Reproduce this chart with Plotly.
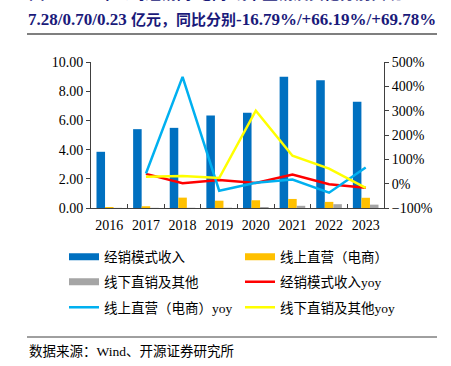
import plotly.graph_objects as go

years = ["2016", "2017", "2018", "2019", "2020", "2021", "2022", "2023"]
dist_rev = [3.85, 5.40, 5.49, 6.34, 6.52, 8.99, 8.75, 7.28]
online_rev = [0.07, 0.12, 0.71, 0.50, 0.53, 0.62, 0.42, 0.70]
offline_rev = [0.01, 0.012, 0.015, 0.018, 0.07, 0.15, 0.26, 0.23]
dist_yoy = [None, 40.3, 1.7, 15.5, 2.8, 37.9, -2.7, -16.79]
online_yoy = [None, 42, 439, -29, 4, 17, -37, 66.19]
offline_yoy = [None, 28, 31, 23, 300, 115, 62, -17]

names = ["经销模式收入", "线上直营（电商）", "线下直销及其他",
         "经销模式收入yoy", "线上直营（电商）yoy", "线下直销及其他yoy"]
colors = ["#0070C0", "#FFC000", "#A5A5A5", "#FF0000", "#00B0F0", "#FFFF00"]

title1 = "图7：2023年公司经销商/电商/线下直销及其他分别实现"
title2 = ("7.28/0.70/0.23 <span style='font-size:15px'>亿元，同比分别</span>"
          "-16.79%/+66.19%/+69.78%")
source = "数据来源：Wind、开源证券研究所"

SERIF = "Liberation Serif, Noto Sans CJK SC"
W, H = 451, 366
PL, PR, PT, PB = 91, 384, 62, 208  # plot area in page pixels
L, R, T, B = PL, W - PR, PT, H - PB
pw, ph = PR - PL, PB - PT


def px_x(x):
    return (x - PL) / pw


def px_y(y):
    return (PB - y) / ph


fig = go.Figure()
for vals, c in zip([dist_rev, online_rev, offline_rev], colors[:3]):
    fig.add_trace(go.Bar(x=years, y=vals, marker=dict(color=c, line=dict(width=0)),
                         showlegend=False, hoverinfo="skip"))
for vals, c in zip([dist_yoy, online_yoy, offline_yoy], colors[3:]):
    fig.add_trace(go.Scatter(x=years, y=vals, yaxis="y2", mode="lines",
                             line=dict(color=c, width=2.5), showlegend=False,
                             hoverinfo="skip"))

# legend entries (three rows, two per row)
legend_ids = ["legend", "legend", "legend2", "legend2", "legend3", "legend3"]
for i, (nm, c, lg) in enumerate(zip(names, colors, legend_ids)):
    wdt = 7 if i < 3 else 2.5
    fig.add_trace(go.Scatter(x=[None], y=[None], mode="lines", name=nm,
                             line=dict(color=c, width=wdt), legend=lg,
                             showlegend=True))

row_y = [257, 282, 307.5]
leg_common = dict(orientation="h", xanchor="left", yanchor="middle",
                  font=dict(family=SERIF, size=13.5, color="#000000"),
                  entrywidth=131, bgcolor="rgba(0,0,0,0)", borderwidth=0,
                  itemclick=False)

fig.update_layout(
    width=W, height=H, autosize=False,
    margin=dict(l=L, r=R, t=T, b=B, pad=0, autoexpand=False),
    paper_bgcolor="white", plot_bgcolor="white",
    barmode="group", bargap=0.30, bargroupgap=0,
    hovermode=False,
    font=dict(family=SERIF, size=14, color="#000000"),
    legend=dict(x=px_x(64), y=px_y(row_y[0]), **leg_common),
    legend2=dict(x=px_x(64), y=px_y(row_y[1]), **leg_common),
    legend3=dict(x=px_x(64), y=px_y(row_y[2]), **leg_common),
    xaxis=dict(type="category", showline=True, linecolor="#404040", linewidth=1,
               ticks="inside", tickson="boundaries", ticklen=4, tickcolor="#404040",
               tickfont=dict(family=SERIF, size=14, color="#000000"), tickangle=0,
               showgrid=False, zeroline=False, ticklabelstandoff=4, automargin=False),
    yaxis=dict(range=[0, 10], dtick=2, tickformat=".2f", showline=True,
               linecolor="#404040", ticks="outside", ticklen=4, tickcolor="#404040",
               tickfont=dict(family=SERIF, size=14, color="#000000"),
               showgrid=False, zeroline=False, automargin=False),
    yaxis2=dict(range=[-100, 500], dtick=100, ticksuffix="%", overlaying="y",
                side="right", showline=True, linecolor="#404040", ticks="outside",
                ticklen=4, tickcolor="#404040",
                tickfont=dict(family=SERIF, size=14, color="#000000"),
                showgrid=False, zeroline=False, automargin=False),
)

fig.add_annotation(text=title1, xref="paper", yref="paper", x=px_x(27), y=px_y(-7),
                   xanchor="left", yanchor="middle", showarrow=False,
                   font=dict(family=SERIF, size=15.5, color="#1a1a7a", weight="bold"))
fig.add_annotation(text=title2, xref="paper", yref="paper", x=px_x(26), y=px_y(20),
                   xanchor="left", yanchor="middle", showarrow=False,
                   font=dict(family=SERIF, size=17, color="#1a1a7a", weight="bold"))
fig.add_annotation(text=source, xref="paper", yref="paper", x=px_x(27), y=px_y(351),
                   xanchor="left", yanchor="middle", showarrow=False,
                   font=dict(family=SERIF, size=13.5, color="#000000"))

fig.add_shape(type="line", xref="paper", yref="paper", x0=px_x(27), x1=px_x(437),
              y0=px_y(34), y1=px_y(34), line=dict(color="#7f7f7f", width=2))
fig.add_shape(type="line", xref="paper", yref="paper", x0=px_x(27), x1=px_x(437),
              y0=px_y(337), y1=px_y(337), line=dict(color="#404040", width=1))

fig.write_html("out.html", config={"displayModeBar": False, "staticPlot": True},
               post_script="document.body.style.margin='0';"
                           "document.body.style.overflow='hidden';")
